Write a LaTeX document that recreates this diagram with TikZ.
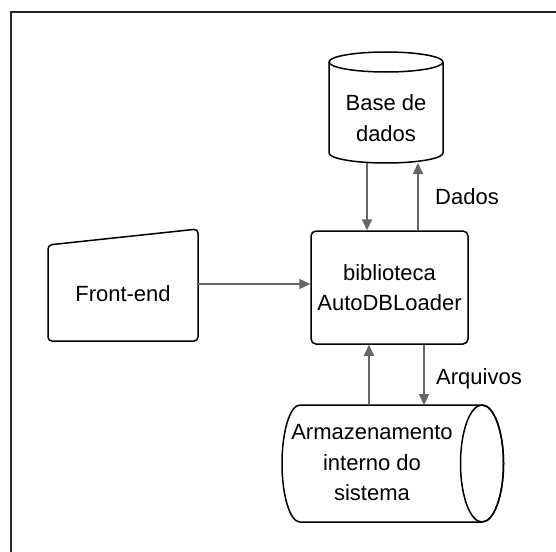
\documentclass[tikz,border=0pt]{standalone}
\usepackage{fontspec}
\setmainfont{Liberation Sans}
\usetikzlibrary{arrows.meta}
\begin{document}
\begin{tikzpicture}[x=1pt,y=-1pt,
  shapeline/.style={draw=black,line width=1.5pt,line join=round},
  arr/.style={draw=black!60,line width=2pt,-{Triangle[length=11pt,width=10pt]}},
  lbl/.style={font=\fontsize{22}{30.5}\selectfont,align=center,inner sep=0pt},
]
\useasboundingbox (0,0) rectangle (556,551);
% frame
\draw[black!85,line width=2.5pt] (11,560) -- (11,12) -- (560,12);

% database cylinder
\fill[white] (329,62) -- (329,153) arc[start angle=180,end angle=360,x radius=57pt,y radius=10pt] -- (443,62) -- cycle;
\draw[shapeline] (329,62) -- (329,153) arc[start angle=180,end angle=360,x radius=57pt,y radius=10pt] -- (443,62);
\draw[shapeline,fill=white] (386,62) ellipse[x radius=57pt,y radius=10pt];
\node[lbl,minimum width=114pt,minimum height=90pt] (db) at (386,118) {Base de\\dados};
\coordinate (dbbot) at (386,163);

% main box
\node[lbl,shapeline,rounded corners=5pt,minimum width=157pt,minimum height=113pt] (main) at (389.5,287.5) {biblioteca\\AutoDBLoader};

% front-end (manual input)
\draw[shapeline,rounded corners=4pt] (48,245) -- (198,229) -- (198,341) -- (48,341) -- cycle;
\node[lbl] (fe) at (123,294) {Front-end};
\coordinate (feout) at (198,284);

% storage cylinder (horizontal)
\draw[shapeline] (300,405) -- (482,405) arc[start angle=90,end angle=-90,x radius=21.5pt,y radius=58.5pt] -- (300,522) arc[start angle=270,end angle=90,x radius=18pt,y radius=58.5pt] -- cycle;
\draw[shapeline] (482,463.5) ellipse[x radius=21.5pt,y radius=58.5pt];
\node[lbl] (store) at (372,463) {Armazenamento\\interno do\\sistema};
\coordinate (sttop) at (392,405);

% connectors
\draw[arr] (feout) -- (main.west |- feout);
\draw[arr] ([xshift=-22.5pt]main.north |- dbbot) -- ([xshift=-22.5pt]main.north);
\draw[arr] ([xshift=28.5pt]main.north) -- ([xshift=28.5pt]main.north |- dbbot);
\draw[arr] ([xshift=-20.5pt]main.south |- sttop) -- ([xshift=-20.5pt]main.south);
\draw[arr] ([xshift=34.5pt]main.south) -- ([xshift=34.5pt]main.south |- sttop);

% labels
\node[lbl] (ldados) at (467,197) {Dados};
\node[lbl] (larq) at (479,379) {Arquivos};
\end{tikzpicture}
\end{document}
